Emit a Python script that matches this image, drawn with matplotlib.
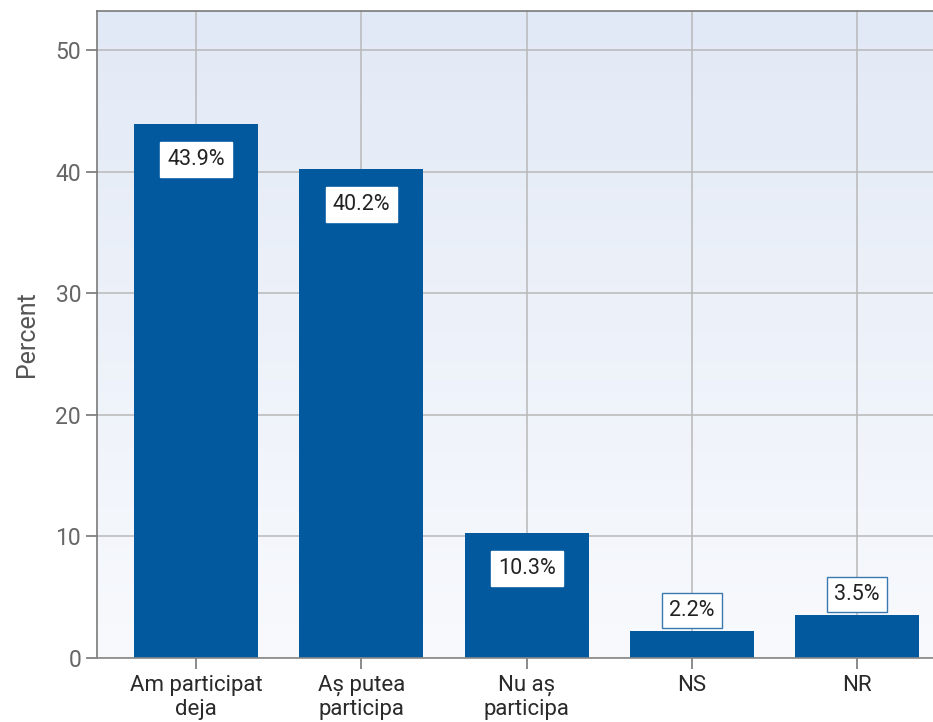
import matplotlib.pyplot as plt
import numpy as np

plt.rcParams['font.family'] = ['Roboto', 'DejaVu Sans']

# date
categorii = ['Am participat\ndeja', 'Aș putea\nparticipa', 'Nu aș\nparticipa', 'NS', 'NR']
procente = [43.9, 40.2, 10.3, 2.2, 3.5]
y_ticks = [0, 10, 20, 30, 40, 50]

fig = plt.figure(figsize=(9.33, 7.22), dpi=100)
ax = fig.add_axes([97 / 933, 64 / 722, 1 - 97 / 933 + 0.002, (658 - 11) / 722])

x = np.arange(len(categorii))
ax.set_xlim(-0.6, 4.47)
ax.set_ylim(0, 53.2)

# fundal in gradient
grad = np.linspace(0, 1, 256).reshape(-1, 1)
top = np.array([0.886, 0.914, 0.965])
bot = np.array([0.973, 0.980, 0.992])
img = bot + (top - bot) * grad
ax.imshow(img.reshape(256, 1, 3), extent=[-0.6, 4.47, 0, 53.2], origin='lower',
          aspect='auto', zorder=0)

ax.grid(True, color='#b8b8b8', linewidth=1.1, zorder=1)
ax.set_axisbelow(True)

ax.bar(x, procente, width=0.75, color='#03599e', zorder=2)

for xi, v in zip(x, procente):
    if v > 5:
        ax.annotate(f'{v}%', (xi, v), xytext=(0, -25.5), textcoords='offset points',
                    ha='center', va='center', fontsize=15.5, color='#222222',
                    bbox=dict(boxstyle='square,pad=0.33', fc='white', ec='white'), zorder=3)
    else:
        ax.annotate(f'{v}%', (xi, v), xytext=(0, 15), textcoords='offset points',
                    ha='center', va='center', fontsize=15.5, color='#222222',
                    bbox=dict(boxstyle='square,pad=0.33', fc='white', ec='#3a78b0', lw=1), zorder=3)

ax.set_xticks(x)
ax.set_xticklabels(categorii, fontsize=16, color='#2a2a2a', linespacing=1.2)
ax.set_yticks(y_ticks)
ax.set_yticklabels([str(t) for t in y_ticks], fontsize=16.5, color='#666666')
ax.tick_params(axis='both', length=8, color='#777777', width=1.2)
ax.tick_params(axis='x', pad=4)
ax.set_ylabel('Percent', fontsize=18, color='#555555', labelpad=12)

ax.spines['right'].set_visible(False)
for s in ['left', 'top']:
    ax.spines[s].set_color('#7a7a7a')
    ax.spines[s].set_linewidth(1.2)
ax.spines['bottom'].set_color('#888888')
ax.spines['bottom'].set_linewidth(1.2)

fig.savefig('out.png', dpi=100)
